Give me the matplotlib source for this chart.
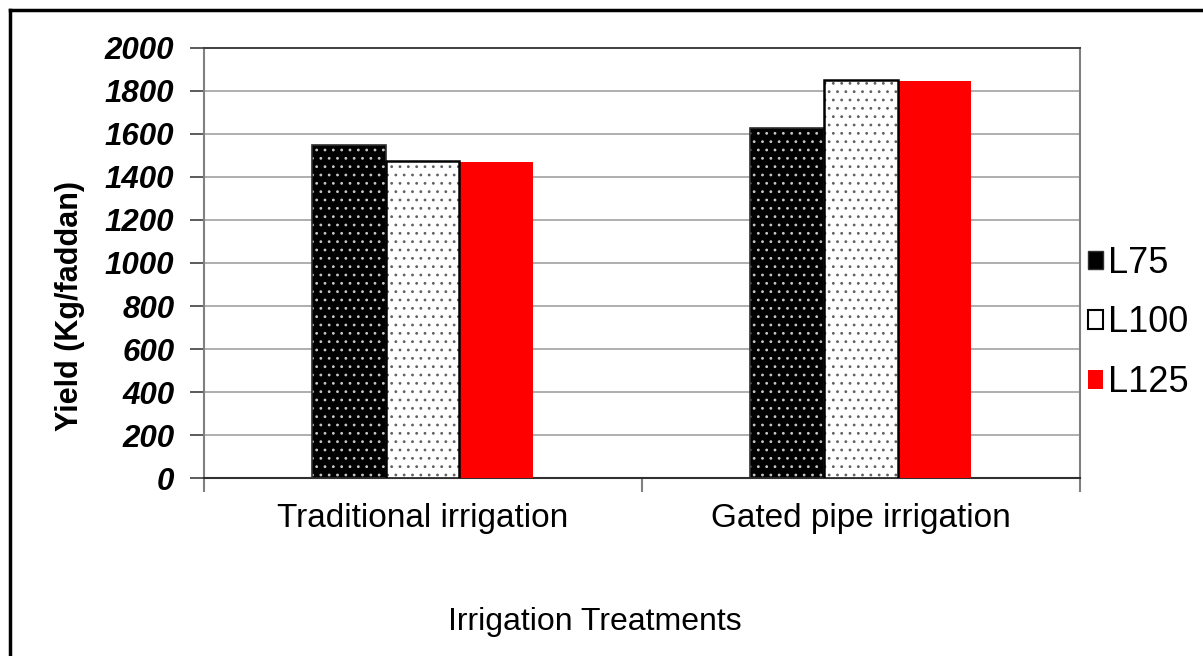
import matplotlib
matplotlib.use("Agg")
import matplotlib.pyplot as plt
from matplotlib.patches import Patch
from matplotlib.lines import Line2D
import numpy as np

plt.rcParams['font.family'] = ['Liberation Sans', 'DejaVu Sans']
plt.rcParams['hatch.linewidth'] = 0.8

# data
treatments = ["Traditional irrigation", "Gated pipe irrigation"]
levels = ["L75", "L100", "L125"]
L75 = [1546, 1626]
L100 = [1474, 1850]
L125 = [1470, 1846]
yticks = [0, 200, 400, 600, 800, 1000, 1200, 1400, 1600, 1800, 2000]

fig = plt.figure(figsize=(12.03, 6.56), dpi=100)
ax = fig.add_axes([0.1692, 0.2709, 0.7286, 0.6564])

x = np.arange(len(treatments))
w = 0.168

# L75: black with light dots
ax.bar(x - w, L75, w, color='black', edgecolor='#c8c8c8', hatch='..', linewidth=0, zorder=3)
ax.bar(x - w, L75, w, fill=False, edgecolor='#303030', linewidth=1.2, zorder=4)
# L100: white with dark dots, black edge
ax.bar(x, L100, w, color='white', edgecolor='#606060', hatch='..', linewidth=0, zorder=3)
ax.bar(x, L100, w, fill=False, edgecolor='black', linewidth=1.8, zorder=4)
# L125: plain red
ax.bar(x + w, L125, w, color='#ff0000', linewidth=0, zorder=3)

ax.set_xlim(-0.5, 1.5)
ax.set_ylim(0, 2000)
ax.set_yticks(yticks)
ax.set_yticklabels([str(v) for v in yticks], fontsize=22.5, fontweight='bold', fontstyle='italic')
ax.yaxis.grid(True, color='#a8a8a8', linewidth=1.3, zorder=0)
ax.set_axisbelow(True)
ax.tick_params(axis='y', direction='out', length=10, width=1.2, color='#404040', pad=11)

ax.set_xticks([-0.5, 0.5, 1.5])
ax.set_xticklabels([])
ax.set_xticks(x, minor=True)
ax.set_xticklabels(treatments, minor=True, fontsize=24)
ax.tick_params(axis='x', which='major', direction='out', length=10, width=1.5, color='#808080')
ax.tick_params(axis='x', which='minor', length=0, pad=18)

for s in ['left', 'right']:
    ax.spines[s].set_color('#808080')
    ax.spines[s].set_linewidth(1.5)
ax.spines['bottom'].set_color('#303030')
ax.spines['bottom'].set_linewidth(1.5)
ax.spines['top'].set_color('#404040')
ax.spines['top'].set_linewidth(1.4)

fig.text(70 / 1203, 1 - 306 / 656, "Yield (Kg/faddan)", rotation=90, ha='center', va='center',
         fontsize=22, fontweight='bold')
fig.text(595 / 1203, 1 - 622 / 656, "Irrigation Treatments", ha='center', va='center', fontsize=23)

handles = [
    Patch(facecolor='black', edgecolor='#303030', linewidth=1),
    Patch(facecolor='white', edgecolor='black', linewidth=1.5),
    Patch(facecolor='#ff0000', linewidth=0),
]
fig.legend(handles, levels, loc='center left', bbox_to_anchor=(1077 / 1203, 1 - 323 / 656),
           frameon=False, fontsize=26, handlelength=0.42, handleheight=0.42,
           handletextpad=0.15, labelspacing=0.68, borderaxespad=0, borderpad=0.3)

# outer frame (top and left edges visible)
fig.add_artist(Line2D([10 / 1203, 10 / 1203], [0, 1 - 10 / 656], transform=fig.transFigure,
                      color='black', linewidth=2.5))
fig.add_artist(Line2D([10 / 1203, 1], [1 - 10 / 656, 1 - 10 / 656], transform=fig.transFigure,
                      color='black', linewidth=2.5))

fig.savefig("out.png", dpi=100)
